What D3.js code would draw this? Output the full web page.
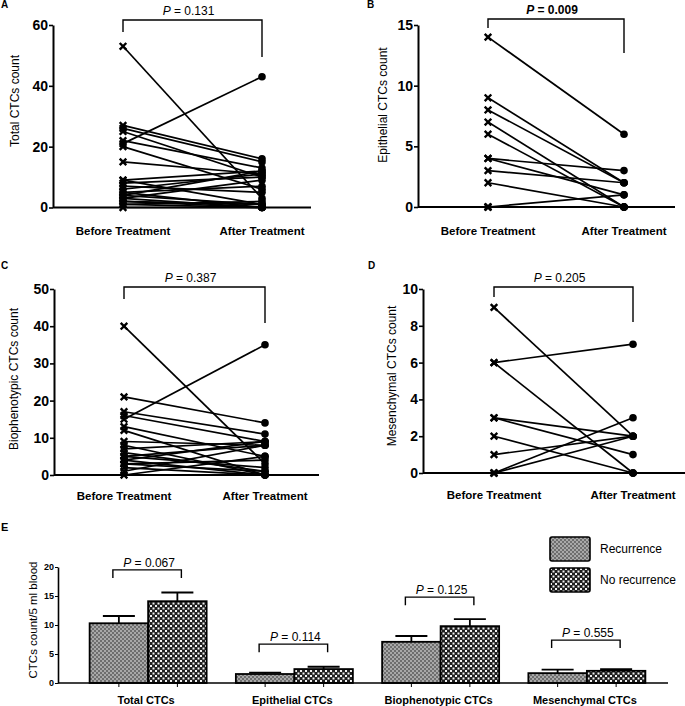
<!DOCTYPE html>
<html>
<head>
<meta charset="utf-8">
<script src="https://cdn.jsdelivr.net/npm/d3@7"></script>
<style>
  body { margin: 0; background: #fff; }
  svg { display: block; font-family: "Liberation Sans", Arial, sans-serif; }
</style>
</head>
<body>
<script>
// paired counts per patient
var timepoints = ["Before Treatment", "After Treatment"];

var totalBefore = [53, 27, 26, 25, 22, 21, 20, 15, 9, 9, 8, 7, 6, 5, 5, 4, 4, 3, 3, 2, 2, 1, 1, 0];
var totalAfter  = [ 3, 16, 15, 10, 13, 43,  6, 11, 12, 1, 10, 5, 11, 0, 7, 12, 1, 0, 9, 1, 0, 2, 0, 0];
var totalTicks = [0, 20, 40, 60];

var epiBefore = [14, 9, 8, 7, 6, 4, 4, 3, 2, 0, 0, 0];
var epiAfter  = [ 6, 2, 2, 0, 0, 3, 1, 2, 0, 1, 0, 0];
var epiTicks = [0, 5, 10, 15];

var bioBefore = [40, 21, 17, 16, 15, 13, 12, 9, 8, 7, 6, 5, 5, 4, 4, 3, 3, 2, 1, 0];
var bioAfter  = [ 3, 14, 11,  9, 35,  5,  0, 8, 0, 9, 1, 8, 2, 9, 0, 4, 1, 0, 8, 5];
var bioTicks = [0, 10, 20, 30, 40, 50];

var mesBefore = [9, 6, 6, 3, 3, 2, 1, 0, 0, 0];
var mesAfter  = [2, 7, 0, 2, 1, 0, 2, 3, 2, 0];
var mesTicks = [0, 2, 4, 6, 8, 10];

// panel E: mean +/- SEM by recurrence status
var groups = ["Total CTCs", "Epithelial CTCs", "Biophenotypic CTCs", "Mesenchymal CTCs"];
var outcomes = ["Recurrence", "No recurrence"];
var recMean = [10.3, 1.55, 7.1, 1.7];
var recSem = [1.25, 0.25, 1.0, 0.6];
var noRecMean = [14.1, 2.4, 9.8, 2.1];
var noRecSem = [1.5, 0.4, 1.2, 0.3];
var pGroups = ["0.067", "0.114", "0.125", "0.555"];
var pLevel = [19.5, 6.7, 14.8, 7.4];
var eTicks = [0, 5, 10, 15, 20];

var svg = d3.select("body").append("svg")
  .attr("width", 685)
  .attr("height", 706);

// fill patterns for the bars
var defs = svg.append("defs");
var pr = defs.append("pattern").attr("id", "patRec")
  .attr("width", 4).attr("height", 4).attr("patternUnits", "userSpaceOnUse");
pr.append("rect").attr("width", 4).attr("height", 4).attr("fill", "#a8a8a8");
pr.append("rect").attr("width", 2).attr("height", 2).attr("fill", "#6e6e6e");
pr.append("rect").attr("x", 2).attr("y", 2).attr("width", 2).attr("height", 2).attr("fill", "#6e6e6e");
var pn = defs.append("pattern").attr("id", "patNoRec")
  .attr("width", 5).attr("height", 5).attr("patternUnits", "userSpaceOnUse");
pn.append("rect").attr("width", 5).attr("height", 5).attr("fill", "#1e1e1e");
pn.append("rect").attr("width", 2).attr("height", 2).attr("fill", "#f2f2f2");
pn.append("rect").attr("x", 2.5).attr("y", 2.5).attr("width", 2).attr("height", 2).attr("fill", "#f2f2f2");

function pText(g, x, y, val, bold) {
  var t = g.append("text")
    .attr("x", x).attr("y", y)
    .attr("text-anchor", "middle")
    .style("font-size", "12px")
    .style("font-weight", bold ? "bold" : "normal");
  t.append("tspan").style("font-style", "italic").text("P");
  t.append("tspan").text(" = " + val);
}

function drawPaired(o) {
  var g = svg.append("g");
  var y = d3.scaleLinear().domain([0, d3.max(o.ticks)]).range([o.y0, o.yTop]);
  var x = d3.scalePoint().domain(timepoints).range([o.xb, o.xa]);

  // panel letter
  g.append("text").attr("x", o.lx).attr("y", o.ly)
    .style("font-size", "10px").style("font-weight", "bold").text(o.letter);

  // y axis
  var ya = g.append("g")
    .attr("transform", "translate(" + o.ax + ",0)")
    .call(d3.axisLeft(y).tickValues(o.ticks).tickSize(4).tickSizeOuter(0).tickPadding(1));
  ya.select(".domain").attr("stroke-width", 2);
  ya.selectAll(".tick line").attr("stroke-width", 1.6);
  ya.selectAll(".tick text")
    .style("font-size", "14px").style("font-weight", "bold")
    .style("font-family", "'Liberation Sans', Arial, sans-serif")
    .attr("fill", "#000");

  // x axis line
  g.append("line")
    .attr("x1", o.ax).attr("x2", o.axEnd)
    .attr("y1", o.y0).attr("y2", o.y0)
    .attr("stroke", "#000").attr("stroke-width", 2);

  g.selectAll(".xlab").data(timepoints).enter().append("text")
    .attr("x", function (d) { return x(d); })
    .attr("y", o.labY)
    .attr("dy", "0.35em")
    .attr("text-anchor", "middle")
    .style("font-size", "11.5px").style("font-weight", "bold")
    .text(function (d) { return d; });

  // y title
  g.append("text")
    .attr("transform", "translate(" + o.tx + "," + o.ty + ")rotate(-90)")
    .attr("dy", "0.35em")
    .attr("text-anchor", "middle")
    .style("font-size", "12px")
    .text(o.title);

  // paired lines
  var pairs = o.before.map(function (b, i) { return [b, o.after[i]]; });
  g.selectAll(".pair").data(pairs).enter().append("line")
    .attr("x1", x(timepoints[0])).attr("x2", x(timepoints[1]))
    .attr("y1", function (d) { return y(d[0]); })
    .attr("y2", function (d) { return y(d[1]); })
    .attr("stroke", "#000").attr("stroke-width", 1.7);

  g.selectAll(".cross").data(o.before).enter().append("path")
    .attr("transform", function (d) { return "translate(" + x(timepoints[0]) + "," + y(d) + ")"; })
    .attr("d", "M-3.3,-3.3L3.3,3.3M-3.3,3.3L3.3,-3.3")
    .attr("stroke", "#000").attr("stroke-width", 2.4);

  g.selectAll(".dot").data(o.after).enter().append("circle")
    .attr("cx", x(timepoints[1]))
    .attr("cy", function (d) { return y(d); })
    .attr("r", 3.8).attr("fill", "#000");

  // significance bracket
  var xl = x(timepoints[0]), xr = x(timepoints[1]);
  g.append("path")
    .attr("d", "M" + xl + "," + o.bl + "V" + o.bt + "H" + xr + "V" + o.br)
    .attr("fill", "none").attr("stroke", "#000").attr("stroke-width", 1.4);
  pText(g, (xl + xr) / 2 - 4, o.bt - 5, o.p, o.pBold);
}

drawPaired({ letter: "A", lx: 1, ly: 8, before: totalBefore, after: totalAfter, ticks: totalTicks,
  ax: 53, axEnd: 311, y0: 207.5, yTop: 25, xb: 123, xa: 262, labY: 231,
  tx: 15, ty: 101, title: "Total CTCs count", bt: 20, bl: 32, br: 57, p: "0.131", pBold: false });

drawPaired({ letter: "B", lx: 367, ly: 8, before: epiBefore, after: epiAfter, ticks: epiTicks,
  ax: 418, axEnd: 675, y0: 207, yTop: 25, xb: 488, xa: 624, labY: 231,
  tx: 383, ty: 105, title: "Epithelial CTCs count", bt: 19, bl: 28, br: 53, p: "0.009", pBold: true });

drawPaired({ letter: "C", lx: 1, ly: 269, before: bioBefore, after: bioAfter, ticks: bioTicks,
  ax: 54, axEnd: 319, y0: 475, yTop: 289, xb: 124, xa: 265, labY: 496,
  tx: 14, ty: 379, title: "Biophenotypic CTCs count", bt: 287, bl: 299, br: 323, p: "0.387", pBold: false });

drawPaired({ letter: "D", lx: 368, ly: 269, before: mesBefore, after: mesAfter, ticks: mesTicks,
  ax: 423, axEnd: 685, y0: 473, yTop: 289, xb: 494, xa: 633, labY: 495,
  tx: 392, ty: 376, title: "Mesenchymal CTCs count", bt: 287, bl: 297, br: 322, p: "0.205", pBold: false });

// ---- panel E ----
var gE = svg.append("g");
var yE = d3.scaleLinear().domain([0, 20]).range([683, 567]);
var xE = d3.scaleBand().domain(groups).range([75, 660]).paddingInner(0.2).paddingOuter(0.1);
var x1 = d3.scaleBand().domain(outcomes).range([0, xE.bandwidth()]);
var fills = { "Recurrence": "url(#patRec)", "No recurrence": "url(#patNoRec)" };

gE.append("text").attr("x", 1).attr("y", 531)
  .style("font-size", "11px").style("font-weight", "bold").text("E");

var yaE = gE.append("g")
  .attr("transform", "translate(58,0)")
  .call(d3.axisLeft(yE).tickValues(eTicks).tickSize(3).tickSizeOuter(0).tickPadding(1));
yaE.select(".domain").attr("stroke-width", 1.6);
yaE.selectAll(".tick text")
  .style("font-size", "9px").style("font-weight", "bold")
  .style("font-family", "'Liberation Sans', Arial, sans-serif")
  .attr("fill", "#000");

gE.append("text")
  .attr("transform", "translate(33,620)rotate(-90)")
  .attr("dy", "0.35em")
  .attr("text-anchor", "middle")
  .style("font-size", "11.5px")
  .text("CTCs count/5 ml blood");

var barData = [];
groups.forEach(function (grp, i) {
  barData.push({ g: grp, s: "Recurrence", m: recMean[i], e: recSem[i] });
  barData.push({ g: grp, s: "No recurrence", m: noRecMean[i], e: noRecSem[i] });
});

function cx(d) { return xE(d.g) + x1(d.s) + x1.bandwidth() / 2; }

// error bars first, bars drawn on top
gE.selectAll(".err").data(barData).enter().append("path")
  .attr("d", function (d) {
    var c = cx(d);
    return "M" + c + "," + yE(d.m) + "V" + yE(d.m + d.e) + "M" + (c - 16) + "," + yE(d.m + d.e) + "H" + (c + 16);
  })
  .attr("fill", "none").attr("stroke", "#000").attr("stroke-width", 1.8);

gE.selectAll(".bar").data(barData).enter().append("rect")
  .attr("x", function (d) { return xE(d.g) + x1(d.s); })
  .attr("y", function (d) { return yE(d.m); })
  .attr("width", x1.bandwidth())
  .attr("height", function (d) { return yE(0) - yE(d.m); })
  .attr("fill", function (d) { return fills[d.s]; })
  .attr("stroke", "#000").attr("stroke-width", 1.8);

gE.append("line")
  .attr("x1", 58).attr("x2", 668).attr("y1", 683).attr("y2", 683)
  .attr("stroke", "#000").attr("stroke-width", 1.6);

gE.selectAll(".xt").data(barData).enter().append("line")
  .attr("x1", cx).attr("x2", cx).attr("y1", 683).attr("y2", 687)
  .attr("stroke", "#000").attr("stroke-width", 1);

gE.selectAll(".glab").data(groups).enter().append("text")
  .attr("x", function (d) { return xE(d) + xE.bandwidth() / 2 - 2; })
  .attr("y", 700)
  .attr("dy", "0.35em")
  .attr("text-anchor", "middle")
  .style("font-size", "11px").style("font-weight", "bold")
  .text(function (d) { return d; });

// brackets
groups.forEach(function (grp, i) {
  var xl = xE(grp) + x1("Recurrence") + x1.bandwidth() / 2 - 6;
  var xr = xE(grp) + x1("No recurrence") + x1.bandwidth() / 2 + 4;
  var yt = yE(pLevel[i]);
  gE.append("path")
    .attr("d", "M" + xl + "," + (yt + 8) + "V" + yt + "H" + xr + "V" + (yt + 8))
    .attr("fill", "none").attr("stroke", "#000").attr("stroke-width", 1.4);
  pText(gE, (xl + xr) / 2 + 2, yt - 3, pGroups[i], false);
});

// legend
var legend = gE.selectAll(".legend").data(outcomes).enter().append("g")
  .attr("transform", function (d, i) { return "translate(550," + (537 + i * 31) + ")"; });
legend.append("rect")
  .attr("width", 40).attr("height", 24).attr("rx", 2)
  .attr("fill", function (d) { return fills[d]; })
  .attr("stroke", "#000").attr("stroke-width", 1.6);
legend.append("text")
  .attr("x", 50).attr("y", 12).attr("dy", "0.35em")
  .style("font-size", "12px")
  .text(function (d) { return d; });
</script>
</body>
</html>
